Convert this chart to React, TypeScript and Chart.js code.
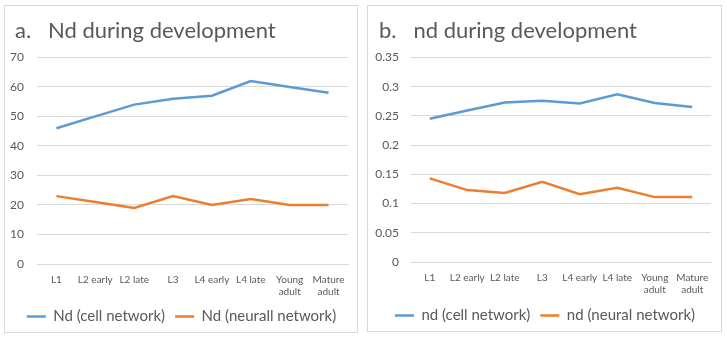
import React, { useEffect, useRef } from "react";
import { Chart, registerables } from "chart.js";

Chart.register(...registerables);

const categories: (string | string[])[] = [
  "L1",
  "L2 early",
  "L2 late",
  "L3",
  "L4 early",
  "L4 late",
  ["Young", "adult"],
  ["Mature", "adult"],
];

const cellNd = [46, 50, 54, 56, 57, 62, 60, 58];
const neuralNd = [23, 21, 19, 23, 20, 22, 20, 20];

const cellNdSmall = [0.245, 0.259, 0.273, 0.276, 0.271, 0.287, 0.272, 0.265];
const neuralNdSmall = [0.143, 0.123, 0.118, 0.137, 0.116, 0.127, 0.111, 0.111];

const yTicksA = ["0", "10", "20", "30", "40", "50", "60", "70"];
const yTicksB = ["0", "0.05", "0.1", "0.15", "0.2", "0.25", "0.3", "0.35"];

const BLUE = "#5b9bd5";
const ORANGE = "#ed7d31";
const TEXT = "#595959";
const GRID = "#d9d9d9";
const FONT = "Lato";

type Props = {
  title: string;
  labelCell: string;
  labelNeural: string;
  cell: number[];
  neural: number[];
  yMax: number;
  yStep: number;
  yTicks: string[];
  padLeft: number;
  padRight: number;
  axisWidth: number;
  tickPad: number;
  xHeight: number;
  width: number;
  height: number;
};

const widenY = {
  id: "widenY",
  afterLayout(chart: any) {
    const y = chart.scales.y;
    if (y) y.left = 0;
  },
};

function LineChart(p: Props) {
  const ref = useRef<HTMLCanvasElement | null>(null);
  useEffect(() => {
    if (!ref.current) return;
    const chart = new Chart(ref.current, {
      type: "line",
      data: {
        labels: categories,
        datasets: [
          {
            label: p.labelCell,
            data: p.cell,
            borderColor: BLUE,
            backgroundColor: BLUE,
            borderWidth: 2.5,
            pointRadius: 0,
            tension: 0,
          },
          {
            label: p.labelNeural,
            data: p.neural,
            borderColor: ORANGE,
            backgroundColor: ORANGE,
            borderWidth: 2.5,
            pointRadius: 0,
            tension: 0,
          },
        ],
      },
      plugins: [widenY],
      options: {
        animation: false,
        responsive: false,
        maintainAspectRatio: false,
        layout: {
          padding: { left: p.padLeft, right: p.padRight, top: 12, bottom: -2 },
        },
        plugins: {
          tooltip: { enabled: false },
          title: {
            display: true,
            text: p.title,
            align: "start",
            color: TEXT,
            font: { family: FONT, size: 22, weight: "normal" },
            padding: { top: 0, bottom: 13 },
          },
          legend: {
            position: "bottom",
            labels: {
              usePointStyle: true,
              pointStyle: "line",
              pointStyleWidth: 19,
              color: TEXT,
              font: { family: FONT, size: 15 },
              padding: 10,
            },
          },
        },
        scales: {
          x: {
            offset: true,
            grid: { display: false, drawTicks: false },
            border: { display: true, color: GRID },
            ticks: {
              color: TEXT,
              font: { family: FONT, size: 10 },
              maxRotation: 0,
              autoSkip: false,
              padding: 10,
            },
            afterFit: (s: any) => {
              s.height = p.xHeight;
            },
          },
          y: {
            min: 0,
            max: p.yMax,
            grid: { color: GRID, drawTicks: false },
            border: { display: false },
            ticks: {
              stepSize: p.yStep,
              color: TEXT,
              font: { family: FONT, size: 12 },
              padding: p.tickPad,
              callback: (_v: any, i: number) => p.yTicks[i],
            },
            afterFit: (s: any) => {
              s.width = p.axisWidth;
            },
          },
        },
      },
    } as any);
    return () => chart.destroy();
  }, []);
  return <canvas ref={ref} width={p.width} height={p.height} style={{ display: "block" }} />;
}

export default function App() {
  return (
    <div
      style={{
        position: "fixed",
        left: 0,
        top: 0,
        width: 727,
        height: 339,
        background: "#ffffff",
      }}
    >
      <div
        style={{
          position: "absolute",
          left: 4,
          top: 5,
          width: 354,
          height: 328,
          boxSizing: "border-box",
          border: `1px solid ${GRID}`,
        }}
      >
        <LineChart
          title="a.   Nd during development"
          labelCell="Nd (cell network)"
          labelNeural="Nd (neurall network)"
          cell={cellNd}
          neural={neuralNd}
          yMax={70}
          yStep={10}
          yTicks={yTicksA}
          padLeft={10}
          padRight={9}
          axisWidth={22}
          tickPad={13}
          xHeight={35}
          width={352}
          height={326}
        />
      </div>
      <div
        style={{
          position: "absolute",
          left: 367,
          top: 5,
          width: 355,
          height: 327,
          boxSizing: "border-box",
          border: `1px solid ${GRID}`,
        }}
      >
        <LineChart
          title="b.   nd during development"
          labelCell="nd (cell network)"
          labelNeural="nd (neural network)"
          cell={cellNdSmall}
          neural={neuralNdSmall}
          yMax={0.35}
          yStep={0.05}
          yTicks={yTicksB}
          padLeft={11}
          padRight={10}
          axisWidth={32}
          tickPad={12}
          xHeight={36}
          width={353}
          height={325}
        />
      </div>
    </div>
  );
}
